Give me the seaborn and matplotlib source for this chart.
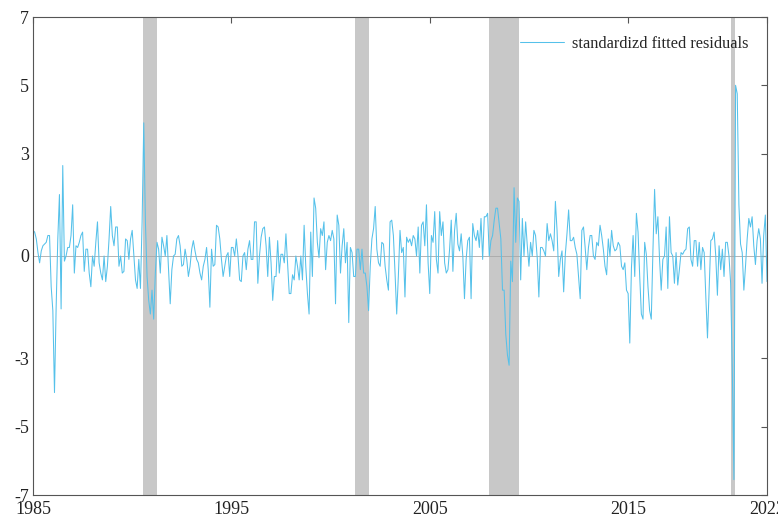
# -*- coding: utf-8 -*-
# standardized fitted residuals, monthly, with recession shading

import numpy as np
import pandas as pd
import matplotlib
matplotlib.use("Agg")
import matplotlib.pyplot as plt
import seaborn as sns

# monthly residuals, one row per year (Jan..Dec)
resid_1985_1994 = [
    0.75, 0.7, 0.5, 0.1, -0.2, 0.15, 0.3, 0.35, 0.4, 0.6, 0.6, -0.9,
    -1.6, -4.0, -1.5, 0.5, 1.8, -1.55, 2.65, -0.15, 0.0, 0.25, 0.25, 0.6,
    1.5, -0.5, 0.3, 0.25, 0.4, 0.6, 0.7, -0.45, 0.2, 0.2, -0.5, -0.9,
    0.0, -0.3, 0.4, 1.0, -0.2, -0.5, -0.7, 0.0, -0.75, -0.3, 0.5, 1.45,
    0.6, 0.3, 0.85, 0.85, -0.3, 0.0, -0.5, -0.45, 0.5, 0.45, -0.1, 0.5,
    0.75, 0.0, -0.7, -0.95, -0.1, -0.95, 1.0, 3.9, 1.0, -0.6, -1.3, -1.7,
    -1.0, -1.85, -0.5, 0.4, 0.2, -0.5, 0.55, 0.3, 0.0, 0.6, -0.4, -1.4,
    -0.4, 0.0, 0.05, 0.5, 0.6, 0.3, -0.3, -0.25, 0.2, -0.1, -0.6, -0.3,
    0.2, 0.45, 0.15, -0.1, -0.2, -0.5, -0.7, -0.3, -0.1, 0.25, -0.4, -1.5,
    0.2, -0.3, -0.25, 0.9, 0.85, 0.5, -0.1, -0.6, -0.3, 0.0, 0.1, -0.6,
]
resid_1995_2004 = [
    0.25, 0.25, 0.0, 0.5, 0.0, -0.7, -0.75, 0.0, 0.1, -0.4, 0.2, 0.45,
    -0.1, -0.1, 1.0, 1.0, -0.8, 0.0, 0.55, 0.8, 0.85, 0.3, -0.6, 0.55,
    -0.2, -1.3, -0.6, -0.6, 0.45, -0.5, 0.05, 0.05, -0.2, 0.65, -0.2, -1.1,
    -1.1, -0.55, -0.7, 0.0, -0.3, -0.7, 0.0, -0.7, 0.9, -0.3, -1.1, -1.7,
    0.7, -0.6, 1.7, 1.4, 0.4, -0.05, 0.8, 0.6, 1.0, -0.4, 0.4, 0.6,
    0.45, 0.75, 0.5, -1.4, 1.2, 0.9, -0.5, 0.3, 0.8, -0.2, 0.4, -1.95,
    0.25, 0.1, -0.6, -0.6, 0.2, 0.2, -0.4, 0.2, -0.5, -0.5, -0.9, -1.6,
    -0.3, 0.5, 0.8, 1.45, 0.2, -0.2, -0.3, 0.4, 0.35, -0.3, -0.7, -1.0,
    1.0, 1.05, 0.6, -0.5, -1.7, -0.6, 0.75, 0.1, 0.25, -1.2, 0.55, 0.4,
    0.5, 0.3, 0.6, 0.5, 0.0, 0.85, -0.5, 0.9, 1.0, 0.3, 1.5, -0.2,
]
resid_2005_2014 = [
    -1.1, 0.6, 0.4, 1.3, -0.1, -0.5, 1.3, 0.6, 1.0, -0.2, -0.5, -0.4,
    0.2, 1.05, -0.45, 0.75, 1.25, 0.35, 0.15, 0.65, 0.0, -1.25, -0.1, 0.45,
    0.55, -1.25, 0.95, 0.6, 0.45, 0.75, 0.25, 1.1, -0.1, 1.15, 1.15, 1.25,
    0.0, 0.45, 0.6, 1.05, 1.4, 1.4, 0.95, 0.5, -1.0, -1.0, -2.3, -2.9,
    -3.2, -0.15, -0.75, 2.0, 0.4, 1.7, 1.6, -0.7, 1.1, 0.0, 1.0, 0.3,
    -0.3, 0.4, 0.0, 0.75, 0.6, -0.05, -1.2, 0.25, 0.25, 0.15, 0.0, 0.95,
    0.45, 0.65, 0.45, 0.15, 1.6, 0.75, -0.6, -0.1, 0.15, -1.05, 0.05, 0.65,
    1.35, 0.45, 0.45, 0.55, 0.25, 0.05, -0.6, -1.25, 0.75, 0.85, 0.25, -0.4,
    0.25, 0.6, 0.6, 0.0, -0.1, 0.4, 0.3, 0.9, 0.6, 0.2, -0.3, -0.55,
    0.5, 0.0, 0.75, 0.3, 0.15, 0.2, 0.4, 0.3, -0.3, -0.4, -0.2, -1.0,
]
resid_2015_2022 = [
    -1.1, -2.55, -0.35, 0.6, -0.6, 1.25, 0.7, -0.6, -1.7, -1.85, 0.4, 0.05,
    -0.9, -1.6, -1.85, 0.15, 1.95, 0.65, 1.15, -0.1, -1.0, -0.1, 0.0, 0.85,
    -0.95, 1.15, 0.1, 0.0, -0.8, 0.1, -0.85, -0.4, 0.1, 0.05, 0.15, 0.2,
    0.8, 0.85, -0.1, -0.3, 0.45, 0.45, -0.3, 0.4, -0.4, 0.25, 0.1, -1.2,
    -2.4, -1.0, 0.45, 0.5, 0.7, 0.0, -1.15, 0.3, -0.4, 0.2, -0.6, 0.4,
    0.4, 0.0, -0.8, -3.3, -6.55, 5.0, 4.75, 1.5, 0.35, 0.1, -1.0, -0.3,
    0.5, 1.1, 0.85, 1.15, 0.3, -0.25, 0.45, 0.8, 0.5, -0.8, 0.6, 1.2,
    -0.75,
]

start_year = 1985
recession_start = [1990.54, 2001.23, 2007.98, 2020.18]
recession_end = [1991.25, 2001.94, 2009.50, 2020.38]

xtick_pos = [1985, 1995, 2005, 2015, 2022]
xtick_labels = ["1985", "1995", "2005", "2015", "2022"]
ytick_pos = [-7, -5, -3, 0, 3, 5, 7]

series_label = "standardizd fitted residuals"


def main():
    resid = resid_1985_1994 + resid_1995_2004 + resid_2005_2014 + resid_2015_2022
    df = pd.DataFrame({
        "date": start_year + np.arange(len(resid)) / 12.0,
        "resid": resid,
    })

    sns.set_theme(style="white")
    plt.rcParams["font.family"] = ["Liberation Serif", "DejaVu Serif"]
    plt.rcParams["font.size"] = 13
    plt.rcParams["axes.unicode_minus"] = False

    fig, ax = plt.subplots(figsize=(7.78, 5.21), dpi=100)
    fig.subplots_adjust(left=33 / 778, right=767 / 778, top=1 - 17 / 521, bottom=1 - 495 / 521)

    for a, b in zip(recession_start, recession_end):
        ax.axvspan(a, b, color="#c8c8c8", lw=0, zorder=0)

    ax.axhline(0, color="#a8a8a8", lw=0.6, zorder=1)

    sns.lineplot(data=df, x="date", y="resid", ax=ax, color="#55c1ea",
                 lw=0.75, label=series_label, zorder=2)

    ax.set_xlim(df["date"].iloc[0], df["date"].iloc[-1])
    ax.set_ylim(-7, 7)
    ax.set_xticks(xtick_pos)
    ax.set_xticklabels(xtick_labels)
    ax.set_yticks(ytick_pos)
    ax.set_xlabel("")
    ax.set_ylabel("")

    ax.tick_params(direction="in", length=4.5, width=0.8, color="#555555",
                   top=True, right=True, labelsize=13, pad=3, labelcolor="#222222")
    ax.tick_params(axis="x", pad=4.5)
    for sp in ax.spines.values():
        sp.set_color("#555555")
        sp.set_linewidth(0.8)

    ax.legend(loc="upper right", frameon=False, fontsize=11.8,
              handlelength=2.7, handletextpad=0.45, borderaxespad=0.75)

    fig.savefig("out.png", dpi=100)


if __name__ == "__main__":
    main()
